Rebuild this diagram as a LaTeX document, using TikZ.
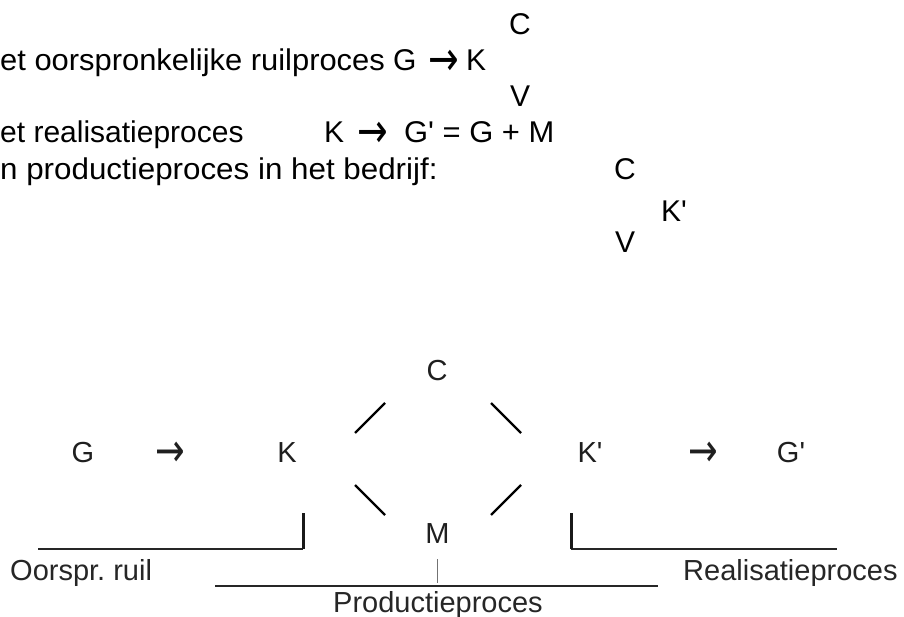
\documentclass[tikz,border=0pt]{standalone}
\usepackage{fontspec}
\setmainfont[Ligatures=TeXOff]{Liberation Sans}
\newfontfamily\arrowfont{DejaVu Sans}
\newcommand{\arr}{\raisebox{-4.3pt}{\scalebox{1.22}[1.6]{\arrowfont →}}}
\newcommand{\wide}[2]{\scalebox{#1}[1]{#2}}
\frenchspacing
\begin{document}
\begin{tikzpicture}[x=1pt,y=-1pt,
  toptext/.style={anchor=base west, inner sep=0pt, font=\fontsize{30}{36}\selectfont},
  bottext/.style={anchor=base, inner sep=0pt, text=black!88, font=\fontsize{29}{34}\selectfont},
  botlabel/.style={anchor=base west, inner sep=0pt, text=black!85, font=\fontsize{29}{34}\selectfont},
  seg/.style={line width=2.4pt, line cap=butt},
  hbar/.style={line width=2pt, black!85},
  vbar/.style={line width=3pt, black!90}]
\useasboundingbox (0,0) rectangle (904,617);

% ---- upper text block ----
\node[toptext] (t1) at (0,71) {\wide{1.03}{et oorspronkelijke ruilproces}};
\node[toptext] (t1g) at (393,71) {G};
\node[toptext] (t1a) at (428,71) {\arr};
\node[toptext] (t1k) at (466,71) {K};
\node[toptext] (tc1) at (509,35) {C};
\node[toptext] (tv1) at (510,107) {V};

\node[toptext] (t2) at (0,143) {et realisatieproces};
\node[toptext] (t2k) at (324,143) {K};
\node[toptext] (t2a) at (357,143) {\arr};
\node[toptext] (t2e) at (404,143) {\wide{1.03}{G' = G + M}};

\node[toptext] (t3) at (0,180) {\wide{1.045}{n productieproces in het bedrijf:}};
\node[toptext] (tc2) at (614,180) {C};
\node[toptext] (tk2) at (661,222) {K'};
\node[toptext] (tv2) at (615,253) {V};

% ---- lower diagram ----
\node[bottext] (G)  at (83,462)  {G};
\node[bottext] (a1) at (170,462) {\arr};
\node[bottext] (K)  at (287,462) {K};
\node[bottext] (C)  at (437,380) {C};
\node[bottext] (M)  at (437.5,543) {M};
\node[bottext] (K2) at (590,462) {K'};
\node[bottext] (a2) at (703,462) {\arr};
\node[bottext] (G2) at (791,462) {G'};

% diamond strokes
\coordinate (ul1) at (355,433); \coordinate (ul2) at (385,403);
\coordinate (ur1) at (491,403); \coordinate (ur2) at (521,433);
\coordinate (ll1) at (355,485); \coordinate (ll2) at (385,515);
\coordinate (lr1) at (491,515); \coordinate (lr2) at (521,485);
\draw[seg] (ul1) -- (ul2);
\draw[seg] (ur1) -- (ur2);
\draw[seg] (ll1) -- (ll2);
\draw[seg] (lr1) -- (lr2);

% brackets
\coordinate (lb0) at (38,549);  \coordinate (lb1) at (303,549); \coordinate (lb2) at (303,513);
\coordinate (rb0) at (837,549); \coordinate (rb1) at (571,549); \coordinate (rb2) at (571,513);
\draw[hbar] (lb0) -- (lb1);
\draw[vbar] (lb1) -- (lb2);
\draw[hbar] (rb1) -- (rb0);
\draw[vbar] (rb1) -- (rb2);

\coordinate (pb0) at (215,586); \coordinate (pb1) at (658,586);
\draw[hbar] (pb0) -- (pb1);
\coordinate (mt0) at (437,559); \coordinate (mt1) at (437,583);
\draw[line width=0.8pt, black!55] (mt0) -- (mt1);

\node[botlabel] (L1) at (10,580) {Oorspr. ruil};
\node[botlabel] (L2) at (683,580) {Realisatieproces};
\node[botlabel] (L3) at (333,612) {Productieproces};
\end{tikzpicture}
\end{document}
